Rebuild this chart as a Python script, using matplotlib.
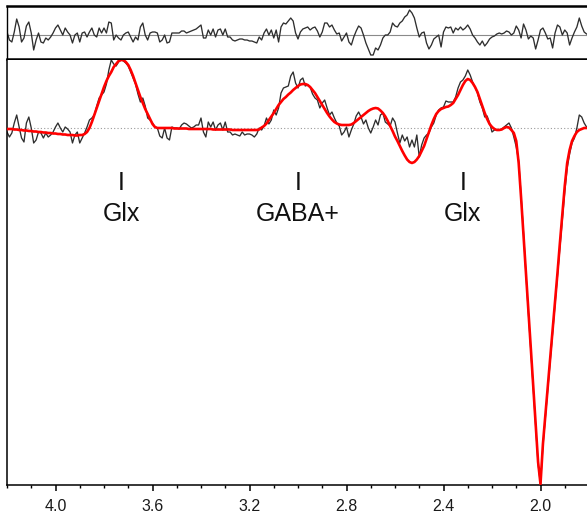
import numpy as np
import matplotlib
matplotlib.use("Agg")
import matplotlib.pyplot as plt
import matplotlib.transforms as mtransforms
from matplotlib.ticker import MultipleLocator, FixedLocator

plt.rcParams['font.family'] = ['Liberation Sans', 'DejaVu Sans']

# chemical shift axis (ppm), 0.01 ppm spacing from 4.20 down to 1.80
ppm = np.round(np.arange(4.20, 1.795, -0.01), 2)

# measured difference spectrum (a.u.)
data = [
    -4, -9, -5, 5, 13, 1, -10, -14, 5, 11,            # 4.20-4.11
    0, -15, -12, -4, -5, -10, -5, -9, -7, -4,         # 4.10-4.01
    1, 5, 0, -4, 1, -1, -4, -15, -7, -4,              # 4.00-3.91
    -15, -10, -5, 1, 8, 10, 13, 22, 30, 33,           # 3.90-3.81
    36, 44, 58, 68, 64, 62, 66, 68, 67, 65,           # 3.80-3.71
    62, 56, 50, 44, 34, 26, 30, 22, 10, 8,            # 3.70-3.61
    5, 1, 0, -8, -10, 0, -10, -12, 1, 0,              # 3.60-3.51
    0, -1, 3, 5, 4, 2, 0, 1, 3, 3,                    # 3.50-3.41
    10, -4, -9, 6, 1, 6, -2, 3, 5, -2,                # 3.40-3.31
    6, -4, -4, -7, -6, -7, -8, -4, -7, -6,            # 3.30-3.21
    -6, -7, -9, -6, 0, -2, 2, 10, 4, 8,               # 3.20-3.11
    18, 13, 20, 35, 40, 41, 42, 52, 56, 45,           # 3.10-3.01
    40, 48, 50, 42, 43, 41, 34, 30, 28, 20,           # 3.00-2.91
    25, 28, 20, 13, 16, 10, 5, 2, -7, -4,             # 2.90-2.81
    1, -9, -2, 4, 12, 16, 11, 4, 8, 0,                # 2.80-2.71
    -5, 1, 8, 3, 13, 15, 6, 4, 2, 10,                 # 2.70-2.61
    6, -5, -15, -7, -13, -9, -19, -12, -19, -7,       # 2.60-2.51
    -29, -17, -10, -7, -5, 1, 5, 13, 18, 20,          # 2.50-2.41
    21, 27, 26, 26, 26, 31, 40, 46, 48, 52,           # 2.40-2.31
    58, 53, 46, 41, 35, 26, 20, 11, 12, 5,            # 2.30-2.21
    -4, -2, -2, -2, -1, 1, 3, 5, 0, -9,               # 2.20-2.11
    -19, -33, -68, -105, -146, -185, -222, -260, -298, -336,   # 2.10-2.01
    -356, -318, -290, -262, -233, -205, -176, -148, -120, -92, # 2.00-1.91
    -64, -40, -26, -15, -10, 0, 13, 11, 5, 1,         # 1.90-1.81
    0,                                                # 1.80
]

# model fit (a.u.)
fit = [
    -1, -1, -1, -1.5, -1.5, -2, -2, -2.5, -2.5, -3,              # 4.20-4.11
    -3, -3.5, -3.5, -4, -4, -4.5, -4.5, -5, -5, -5.5,            # 4.10-4.01
    -5.5, -6, -6, -6.5, -6.5, -7, -7, -7, -7.5, -7.5,            # 4.00-3.91
    -7, -7, -6, -4, 0, 6, 13, 20, 27, 34,                        # 3.90-3.81
    41, 47, 52, 56, 61, 64, 67, 68, 68, 66,                      # 3.80-3.71
    63, 58, 52, 45, 38, 31, 25, 19, 14, 9,                       # 3.70-3.61
    4, 1, 0, 0, 0, 0, 0, 0, 0, -0.5,                             # 3.60-3.51
    -0.5, -0.5, -0.5, -0.5, -0.5, -1, -1, -1, -1, -1,            # 3.50-3.41
    -1, -1, -1, -1, -1, -1.5, -1.5, -1.5, -1.5, -1.5,            # 3.40-3.31
    -1.5, -1.5, -1.5, -2, -2, -2, -2, -2, -2, -2,                # 3.30-3.21
    -2, -2, -2, -2, -1.5, 0.5, 2, 4.5, 8, 11.5,                  # 3.20-3.11
    15, 19, 23, 26, 29, 31, 33.5, 35.5, 38, 40,                  # 3.10-3.01
    42, 43.5, 44, 44, 43, 41, 38, 35, 31, 27,                    # 3.00-2.91
    23, 19, 15, 11.5, 8.5, 6, 4.5, 3.5, 3, 3,                    # 2.90-2.81
    3, 3, 3.5, 5, 7, 9, 11, 13, 15, 17,                          # 2.80-2.71
    18.5, 19.5, 20, 19.5, 17.5, 15, 11.5, 7, 2, -3,              # 2.70-2.61
    -8.5, -13, -18, -23, -27.5, -31.5, -34, -35, -34, -31.5,     # 2.60-2.51
    -28, -23, -18, -11, -4, 3, 9, 14, 17, 19,                    # 2.50-2.41
    20, 21, 21.5, 23, 25, 29, 33, 38, 43, 47,                    # 2.40-2.31
    49, 48, 45, 41, 36, 29, 22, 15, 9, 4,                        # 2.30-2.21
    1, -1, -2, -2, -1.5, 0, 1, 0.5, -2, -5,                      # 2.20-2.11
    -13, -35, -70, -108, -145, -182, -220, -258, -296, -334,     # 2.10-2.01
    -356, -316, -287, -259, -230, -202, -173, -145, -115, -87,   # 2.00-1.91
    -58, -35, -22, -13, -8, -4, -2, -1, 0, 0,                    # 1.90-1.81
    0,                                                           # 1.80
]

# fit residual (a.u.)
residual = [
    3, -5, -7, 3, 16, 8, -7, -3, 9, 13,               # 4.20-4.11
    2, -15, -5, 2, -7, -8, -3, -5, -2, 2,             # 4.10-4.01
    7, 10, 5, 0, 7, 3, 0, -8, 0, 2,                   # 4.00-3.91
    -7, 2, 3, -2, 3, 7, 0, -2, 7, 2,                  # 3.90-3.81
    7, 2, 13, 12, -5, 0, -3, -5, 0, 2,                # 3.80-3.71
    3, -2, -7, -2, -5, 8, 12, 0, -5, 2,               # 3.70-3.61
    3, 3, 2, -7, -5, 0, -8, -7, 2, 2,                 # 3.60-3.51
    2, 2, 4, 4, 2, 3, 4, 5, 6, 8,                     # 3.50-3.41
    10, -3, -3, 5, 0, 6, -2, 5, 6, 0,                 # 3.40-3.31
    6, -2, -2, -5, -6, -5, -4, -4, -5, -5,            # 3.30-3.21
    -6, -6, -7, -8, -2, -5, 2, 6, 0, 5,               # 3.20-3.11
    -3, 5, -7, 8, 12, 11, 14, 17, 14, 2,              # 3.10-3.01
    -4, 3, 6, 7, 8, 5, 7, 8, 4, -2,                   # 3.00-2.91
    3, 12, 12, 8, 10, 5, 1, 2, -6, -2,                # 2.90-2.81
    2, -7, -10, -2, 4, 9, 7, 0, -8, -14,              # 2.80-2.71
    -20, -20, -13, -15, -10, -3, 0, 0, 3, 12,         # 2.70-2.61
    9, 8, 12, 14, 18, 20, 25, 22, 17, 7,              # 2.60-2.51
    -2, 2, 3, -8, -14, -10, -4, -2, 0, -12,           # 2.50-2.41
    3, 8, 7, 8, 2, 7, 5, 8, 5, 7,                     # 2.40-2.31
    10, 6, 0, -3, -7, -10, -6, -11, -8, -4,           # 2.30-2.21
    -2, -1, 1, 2, 1, 2, 4, 3, 0, 2,                   # 2.20-2.11
    9, 5, -3, 11, 5, -4, -1, -3, -14, -5,             # 2.10-2.01
    5, 7, 2, -4, -3, -13, 2, 10, 8, 0,                # 2.00-1.91
    5, 2, -10, -3, 3, 8, 17, 9, 3, 1,                 # 1.90-1.81
    0,                                                # 1.80
]

# peak annotations
peak_names = ["Glx", "GABA+", "Glx"]
peak_ppm = [3.73, 3.00, 2.32]

major_ticks = [4.0, 3.6, 3.2, 2.8, 2.4, 2.0]
tick_text = ["4.0", "3.6", "3.2", "2.8", "2.4", "2.0"]

W, H = 587, 524
fig = plt.figure(figsize=(W / 100, H / 100), dpi=100)

x0, x1 = 7, 589
ax_res = fig.add_axes([x0 / W, 1 - 59 / H, (x1 - x0) / W, 53 / H])
ax = fig.add_axes([x0 / W, 1 - 485 / H, (x1 - x0) / W, 425 / H])

xlim = (4.2, 1.8)

# residual panel
ax_res.axhline(0, color="#8a8a8a", lw=0.8, zorder=1)
ax_res.plot(ppm, residual, color="#2e2e2e", lw=0.95, zorder=2)
ax_res.set_xlim(*xlim)
ax_res.set_ylim(-24, 29)
ax_res.set_xticks([])
ax_res.set_yticks([])
for side in ("top", "bottom"):
    ax_res.spines[side].set_linewidth(1.8)
ax_res.spines["left"].set_linewidth(1.0)
ax_res.spines["right"].set_visible(False)

# main spectrum panel
ax.axhline(0, color="#9a9a9a", lw=0.8, ls=(0, (1, 2)), zorder=1)
ax.plot(ppm, data, color="#2e2e2e", lw=0.95, zorder=2)
ax.plot(ppm, fit, color="#ff0000", lw=1.9, zorder=3, solid_joinstyle="round")
ax.set_xlim(*xlim)
ax.set_ylim(-357, 68)
ax.set_yticks([])
ax.spines["top"].set_visible(False)
ax.spines["right"].set_visible(False)
ax.spines["left"].set_linewidth(1.1)
ax.spines["bottom"].set_linewidth(1.1)

ax.xaxis.set_major_locator(FixedLocator(major_ticks))
ax.set_xticklabels(tick_text)
ax.xaxis.set_minor_locator(MultipleLocator(0.1))
ax.tick_params(axis="x", which="major", direction="out", length=4, width=1.1,
               pad=6, labelsize=11.5, labelcolor="#1a1a1a")
ax.tick_params(axis="x", which="minor", direction="out", length=2.5, width=1.0)

trans = mtransforms.blended_transform_factory(ax.transData, fig.transFigure)
for name, pos in zip(peak_names, peak_ppm):
    ax.text(pos, 1 - 189.5 / H, "I", transform=trans, ha="center", va="baseline",
            fontsize=18, color="#111111")
    ax.text(pos, 1 - 221.5 / H, name, transform=trans, ha="center", va="baseline",
            fontsize=18, color="#111111")

fig.savefig("out.png", dpi=100)
